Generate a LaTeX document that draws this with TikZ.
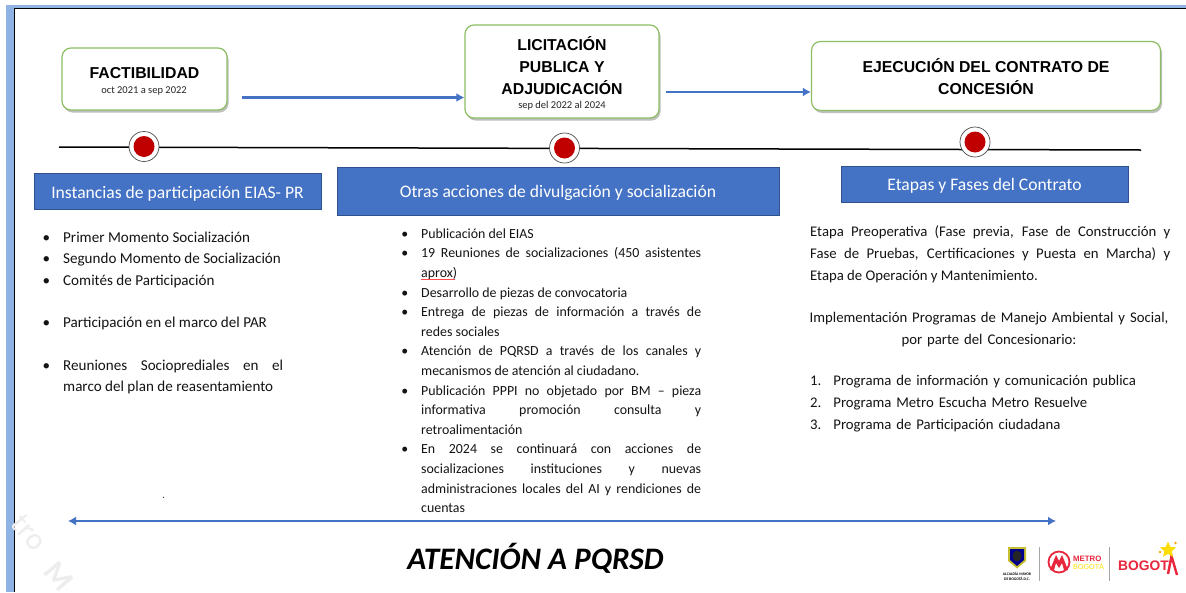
\documentclass[tikz,border=0pt]{standalone}
\usepackage{fontspec}
\setmainfont{Carlito}
\newfontfamily\heros{Liberation Sans}
\usetikzlibrary{shadows,arrows.meta,shapes.geometric}
\definecolor{bandblue}{HTML}{8FB4E3}
\definecolor{boxblue}{HTML}{4472C4}
\definecolor{boxedge}{HTML}{2F528F}
\definecolor{stagegreen}{HTML}{8CBF63}
\definecolor{dotred}{HTML}{C00000}
\definecolor{logored}{HTML}{E8263C}
\tikzset{
  x=1pt,y=-1pt,
  stagebox/.style={draw=stagegreen,line width=1.2pt,fill=white,rounded corners=9pt,
    minimum width=#1,align=center,
    drop shadow={shadow xshift=1.5pt,shadow yshift=-2.5pt,fill=black,opacity=.25}},
  stagetitle/.style={font=\heros\bfseries\fontsize{15.8}{22}\selectfont,align=center,anchor=center,inner sep=0pt,text=black},
  stagedate/.style={font=\fontsize{10.5}{12}\selectfont,anchor=center,inner sep=0pt,text=black!85},
  headbox/.style={draw=boxedge,line width=.9pt,fill=boxblue,anchor=center,inner sep=0pt},
  headtext/.style={text=white,anchor=center,inner sep=0pt,font=\fontsize{17.6}{20}\selectfont},
  milestone/.style={circle,draw=black!70,line width=.7pt,fill=white,minimum size=30pt,inner sep=0pt},
  redcore/.style={circle,fill=dotred,minimum size=21pt,inner sep=0pt},
  flow/.style={draw=boxblue,line width=2.2pt,-{Latex[length=8pt,width=9pt]}},
  bodytext/.style={anchor=north west,inner sep=0pt,align=justify,text=black!92,
    font=\fontsize{14.75}{21.7}\selectfont},
  bullettext/.style={bodytext,font=\fontsize{15.1}{21.3}\selectfont},
}
\newcommand{\bul}[1]{\noindent\hangindent=19pt\hangafter=0\llap{\textbullet\hspace{13pt}}#1\par}
\begin{document}
\begin{tikzpicture}
\useasboundingbox (0,0) rectangle (1186,592);
\fill[white] (0,0) rectangle (1186,592);
% frame
\fill[bandblue] (6,5) rectangle (1186,8);
\fill[bandblue] (6,5) rectangle (14,592);
\draw[black,line width=.8pt] (14.5,592) -- (14.5,8.3) -- (1186,8.3);
% watermark
\node[rotate=-50,text=black!7,inner sep=0pt,anchor=west,font=\fontsize{31}{31}\selectfont] at (17,518) {tro};
\node[rotate=-50,text=black!7,inner sep=0pt,anchor=west,font=\bfseries\fontsize{31}{31}\selectfont] at (50,566) {M};
% timeline
\coordinate (tlA) at (59,147);
\coordinate (tlB) at (1141,150);
\draw[black,line width=1.5pt] (tlA) -- (tlB);
\node[milestone] (m1) at (144,146.5) {};
\node[redcore] at (m1) {};
\node[milestone] (m2) at (564.5,148) {};
\node[redcore] at (m2) {};
\node[milestone] (m3) at (975,142) {};
\node[redcore] at (m3) {};
% stage boxes
\node[stagebox=165pt,minimum height=62pt] (s1) at (144.5,79) {};
\node[stagebox=194pt,minimum height=93pt] (s2) at (562,71.5) {};
\node[stagebox=349pt,minimum height=69pt] (s3) at (986,76) {};
\node[stagetitle] at (144.5,73.5) {FACTIBILIDAD};
\node[stagedate] at (144,91) {oct 2021 a sep 2022};
\node[stagetitle] at (562,66) {LICITACIÓN\\PUBLICA Y\\ADJUDICACIÓN};
\node[stagedate] at (562,106) {sep del 2022 al 2024};
\node[stagetitle] at (986,77) {EJECUCIÓN DEL CONTRATO DE\\CONCESIÓN};
% flow arrows
\coordinate (f1) at (242,97.5);
\coordinate (f2) at (666,92);
\draw[flow] (f1) -- (s2.west |- f1);
\draw[flow] (f2) -- (s3.west |- f2);
% headers
\node[headbox,minimum width=287pt,minimum height=36pt] (h1) at (177.5,191) {};
\node[headbox,minimum width=442pt,minimum height=48pt] (h2) at (558,191.5) {};
\node[headbox,minimum width=287pt,minimum height=36pt] (h3) at (984.5,184) {};
\node[headtext] at (177.5,193.5) {Instancias de participación EIAS- PR};
\node[headtext] at (558,193) {Otras acciones de divulgación y socialización};
\node[headtext] at (984.5,185.5) {Etapas y Fases del Contrato};
% left list
\node[bullettext,text width=239pt] at (44,232) {%
\bul{Primer Momento Socialización}
\bul{Segundo Momento de Socialización}
\bul{Comités de Participación}
\vspace{21.3pt}
\bul{Participación en el marco del PAR}
\vspace{21.3pt}
\bul{Reuniones Socioprediales en el\linebreak marco del plan de reasentamiento}};
% middle list
\node[bullettext,font=\fontsize{13.9}{19.6}\selectfont,text width=299pt] at (402,228.5) {%
\bul{Publicación del EIAS}
\bul{19 Reuniones de socializaciones (450 asistentes\linebreak aprox)}
\bul{Desarrollo de piezas de convocatoria}
\bul{Entrega de piezas de información a través de\linebreak redes sociales}
\bul{Atención de PQRSD a través de los canales y\linebreak mecanismos de atención al ciudadano.}
\bul{Publicación PPPI no objetado por BM – pieza\linebreak informativa promoción consulta y\linebreak retroalimentación}
\bul{En 2024 se continuará con acciones de\linebreak socializaciones instituciones y nuevas\linebreak administraciones locales del AI y rendiciones de\linebreak cuentas}};
\draw[red!70,line width=.5pt] (421,279.5) -- (455,279.5);
% right text
\node[bodytext,text width=360pt] at (810,226) {Etapa Preoperativa (Fase previa, Fase de Construcción y\linebreak Fase de Pruebas, Certificaciones y Puesta en Marcha) y\linebreak Etapa de Operación y Mantenimiento.};
\node[bodytext,text width=360pt,align=center,anchor=north] at (989,312.5) {Implementación Programas de Manejo Ambiental y Social,\\por parte del Concesionario:};
\node[bodytext,text width=360pt,align=left] at (810,375.5) {1.\hspace{12pt}Programa de información y comunicación publica\\2.\hspace{12pt}Programa Metro Escucha Metro Resuelve\\3.\hspace{12pt}Programa de Participación ciudadana};
% stray dot
\fill[black!70] (163.5,497.3) circle (.8pt);
% bottom arrow
\coordinate (bA) at (68,521);
\coordinate (bB) at (1056,521);
\draw[boxblue,line width=2.2pt,{Latex[length=8pt,width=9pt]}-{Latex[length=8pt,width=9pt]}] (bA) -- (bB);
\node[inner sep=0pt,font=\bfseries\itshape\fontsize{31.3}{32}\selectfont] at (535.5,558) {ATENCIÓN A PQRSD};
% logos: city crest
\fill[yellow!75!black] (1008,547) -- (1026,547) -- (1026,561) -- (1017,568.5) -- (1008,561) -- cycle;
\fill[blue!55!black] (1010,549) -- (1024,549) -- (1024,560) -- (1017,566) -- (1010,560) -- cycle;
\fill[black!85] (1017,556) ellipse (4.5pt and 5.5pt);
\node[inner sep=0pt,align=center,font=\bfseries\fontsize{3.8}{4.6}\selectfont] at (1017,576.5) {ALCALDÍA MAYOR\\DE BOGOTÁ D.C.};
\draw[black!35,line width=.6pt] (1039.5,547) -- (1039.5,581);
\draw[black!35,line width=.6pt] (1109,547) -- (1109,581);
% logos: Metro
\draw[logored,line width=1.8pt] (1059,562) circle (10.5pt);
\fill[logored,line join=round] (1050,570) -- (1056,555) -- (1059,561) -- (1062,555) -- (1068,570) -- (1064,570) -- (1062,563) -- (1059,568) -- (1056,563) -- (1054,570) -- cycle;
\node[inner sep=0pt,anchor=west,text=logored,font=\heros\bfseries\fontsize{7.8}{8.5}\selectfont] at (1073,558.5) {METRO};
\node[inner sep=0pt,anchor=west,text=yellow!85!orange,font=\heros\fontsize{7.2}{8.5}\selectfont] at (1073,566.5) {BOGOTÁ};
% logos: Bogota
\node[inner sep=0pt,anchor=west,text=logored,font=\heros\bfseries\fontsize{13.8}{14}\selectfont] at (1118,565.5) {BOGOT};
\draw[logored,line width=2.4pt] (1168,574) -- (1171.5,556) -- (1177,575);
\node[star,star points=5,star point ratio=2.2,fill=yellow!80!orange,inner sep=0pt,minimum size=17pt] at (1168,550) {};
\fill[orange!70!yellow] (1160,552) circle (1.3pt) (1175.5,543) circle (1.3pt);
\end{tikzpicture}
\end{document}
